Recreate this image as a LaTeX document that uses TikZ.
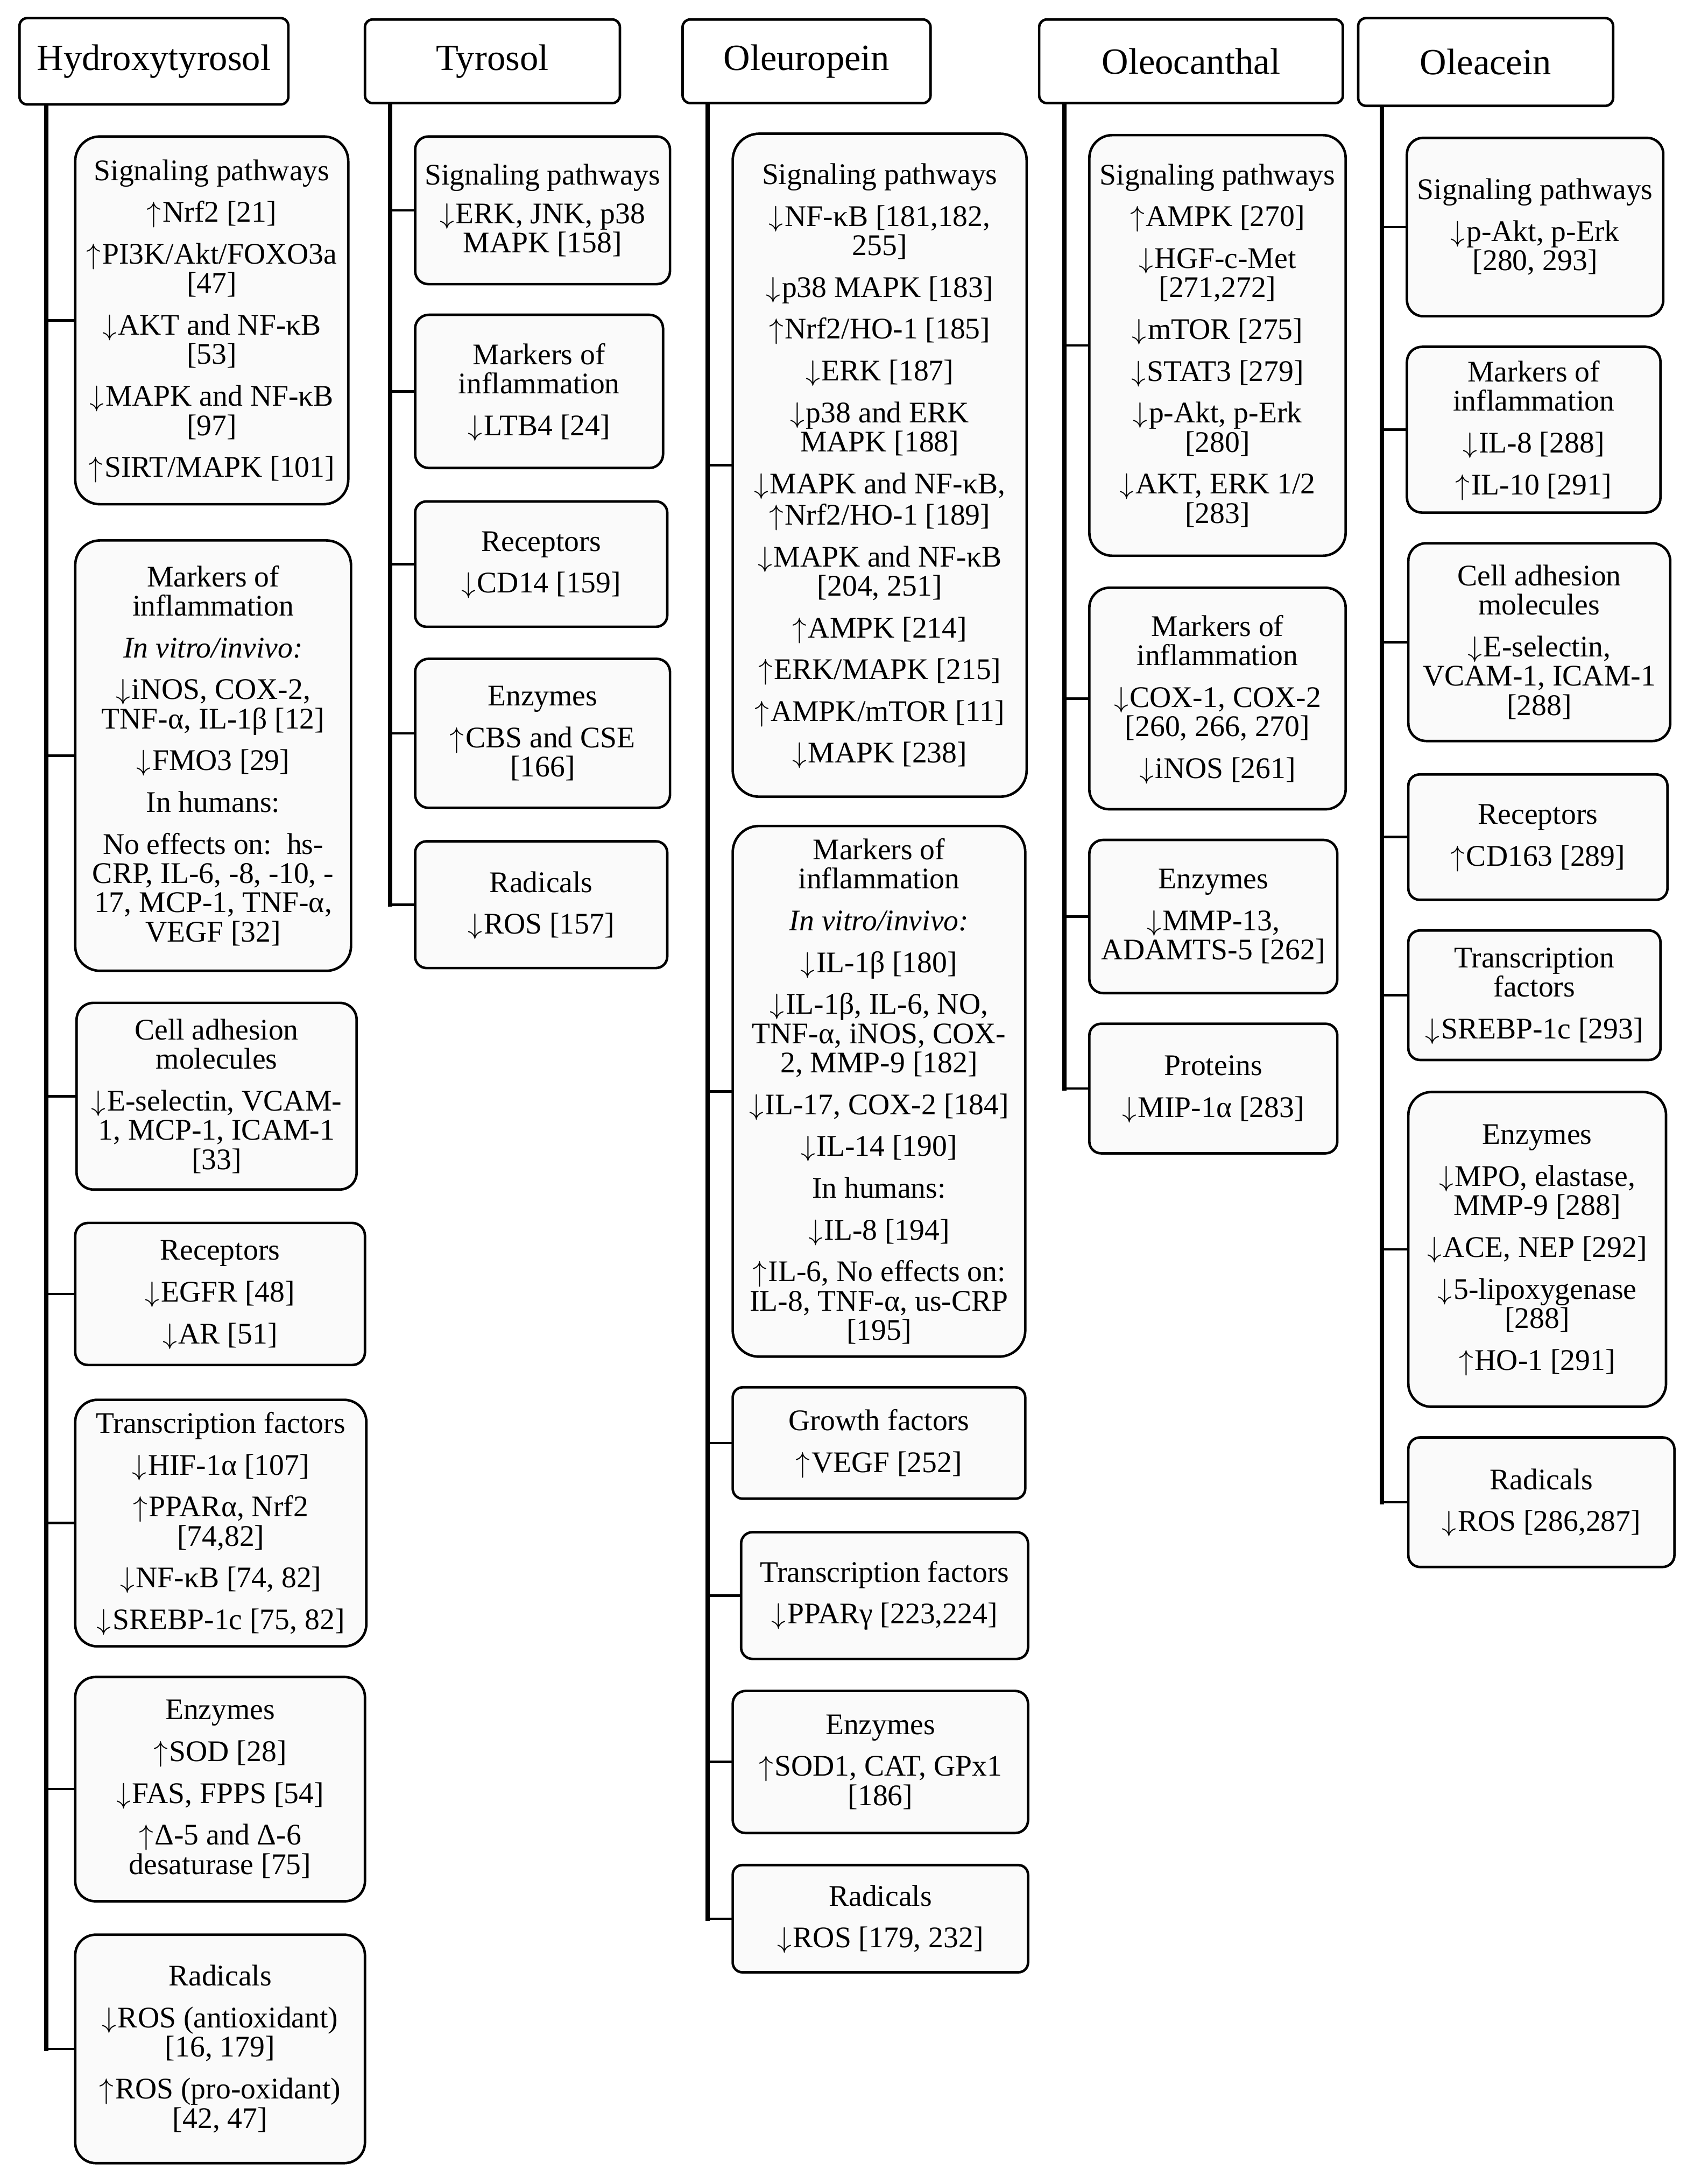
\documentclass[tikz,border=0pt]{standalone}
\usepackage{fontspec}
\setmainfont{Liberation Serif}
\newcommand\UA{\smash{$\uparrow$}\kern1pt}
\newcommand\DA{\smash{$\downarrow$}\kern1pt}
\newcommand\olbox[7][subbox]{%
  \pgfmathsetmacro\olw{#5-#3}%
  \pgfmathsetmacro\olh{#6-#4}%
  \pgfmathsetmacro\olr{0.09*min(\olw,\olh)}%
  \node[#1, minimum width=\olw pt, minimum height=\olh pt, rounded corners=\olr pt] (#2) at ({(#3+#5)/2},{(#4+#6)/2}) {#7};}
\begin{document}
\begin{tikzpicture}[x=1pt,y=-1pt,
  subbox/.style={draw, line width=1.8pt, fill=black!2, align=center, inner sep=0pt, font=\fontsize{21.5}{21}\selectfont},
  titlebox/.style={draw, line width=1.8pt, fill=white, align=center, inner sep=0pt, font=\fontsize{26.5}{28}\selectfont},
  trunk/.style={line width=3pt, line cap=rect},
  conn/.style={line width=1.8pt, line cap=rect}]
\fill[white] (0,0) rectangle (1216,1568);
\useasboundingbox (0,0) rectangle (1216,1568);

% ---------- Hydroxytyrosol ----------
\olbox[titlebox]{T1}{14}{13}{207}{75}{Hydroxytyrosol}
\olbox{H1}{54}{98}{250}{362}{Signaling pathways\\[9pt]\UA{}Nrf2 [21]\\[9pt]\UA{}PI3K/Akt/FOXO3a\\{}[47]\\[9pt]\DA{}AKT and NF-κB\\{}[53]\\[9pt]\DA{}MAPK and NF-κB\\{}[97]\\[9pt]\UA{}SIRT/MAPK [101]}
\olbox{H2}{54}{388}{252}{697}{Markers of\\inflammation\\[9pt]\textit{In vitro/invivo:}\\[9pt]\DA{}iNOS, COX-2,\\TNF-α, IL-1β [12]\\[9pt]\DA{}FMO3 [29]\\[9pt]In humans:\\[9pt]No effects on:\ \ hs-\\CRP, IL-6, -8, -10, -\\17, MCP-1, TNF-α,\\VEGF [32]}
\olbox{H3}{55}{720}{256}{854}{Cell adhesion\\molecules\\[9pt]\DA{}E-selectin, VCAM-\\1, MCP-1, ICAM-1\\{}[33]}
\olbox{H4}{54}{878}{262}{980}{Receptors\\[9pt]\DA{}EGFR [48]\\[9pt]\DA{}AR [51]}
\olbox{H5}{54}{1005}{263}{1182}{Transcription factors\\[9pt]\DA{}HIF-1α [107]\\[9pt]\UA{}PPARα, Nrf2\\{}[74,82]\\[9pt]\DA{}NF-κB [74, 82]\\[9pt]\DA{}SREBP-1c [75, 82]}
\olbox{H6}{54}{1204}{262}{1365}{Enzymes\\[9pt]\UA{}SOD [28]\\[9pt]\DA{}FAS, FPPS [54]\\[9pt]\UA{}Δ-5 and Δ-6\\desaturase [75]}
\olbox{H7}{54}{1389}{262}{1553}{Radicals\\[9pt]\DA{}ROS (antioxidant)\\{}[16, 179]\\[9pt]\UA{}ROS (pro-oxidant)\\{}[42, 47]}

% ---------- Tyrosol ----------
\olbox[titlebox]{T2}{262}{14}{445}{74}{Tyrosol}
\olbox{Y1}{298}{98}{481}{204}{Signaling pathways\\[7pt]\DA{}ERK, JNK, p38\\MAPK [158]}
\olbox{Y2}{298}{226}{476}{336}{Markers of\\inflammation\\[9pt]\DA{}LTB4 [24]}
\olbox{Y3}{298}{360}{479}{450}{Receptors\\[9pt]\DA{}CD14 [159]}
\olbox{Y4}{298}{473}{481}{580}{Enzymes\\[9pt]\UA{}CBS and CSE\\{}[166]}
\olbox{Y5}{298}{604}{479}{695}{Radicals\\[9pt]\DA{}ROS [157]}

% ---------- Oleuropein ----------
\olbox[titlebox]{T3}{490}{14}{668}{74}{Oleuropein}
\olbox{O1}{526}{96}{737}{572}{Signaling pathways\\[9pt]\DA{}NF-κB [181,182,\\255]\\[9pt]\DA{}p38 MAPK [183]\\[9pt]\UA{}Nrf2/HO-1 [185]\\[9pt]\DA{}ERK [187]\\[9pt]\DA{}p38 and ERK\\MAPK [188]\\[9pt]\DA{}MAPK and NF-κB,\\[1.5pt]\UA{}Nrf2/HO-1 [189]\\[9pt]\DA{}MAPK and NF-κB\\{}[204, 251]\\[9pt]\UA{}AMPK [214]\\[9pt]\UA{}ERK/MAPK [215]\\[9pt]\UA{}AMPK/mTOR [11]\\[9pt]\DA{}MAPK [238]}
\olbox{O2}{526}{593}{736}{974}{Markers of\\inflammation\\[9pt]\textit{In vitro/invivo:}\\[9pt]\DA{}IL-1β [180]\\[9pt]\DA{}IL-1β, IL-6, NO,\\TNF-α, iNOS, COX-\\2, MMP-9 [182]\\[9pt]\DA{}IL-17, COX-2 [184]\\[9pt]\DA{}IL-14 [190]\\[9pt]In humans:\\[9pt]\DA{}IL-8 [194]\\[9pt]\UA{}IL-6, No effects on:\\IL-8, TNF-α, us-CRP\\{}[195]}
\olbox{O3}{526}{996}{736}{1076}{Growth factors\\[9pt]\UA{}VEGF [252]}
\olbox{O4}{532}{1100}{738}{1191}{Transcription factors\\[9pt]\DA{}PPARγ [223,224]}
\olbox{O5}{526}{1214}{738}{1316}{Enzymes\\[9pt]\UA{}SOD1, CAT, GPx1\\{}[186]}
\olbox{O6}{526}{1339}{738}{1416}{Radicals\\[9pt]\DA{}ROS [179, 232]}

% ---------- Oleocanthal ----------
\olbox[titlebox]{T4}{746}{14}{964}{74}{Oleocanthal}
\olbox{C1}{782}{97}{966}{399}{Signaling pathways\\[9pt]\UA{}AMPK [270]\\[9pt]\DA{}HGF-c-Met\\{}[271,272]\\[9pt]\DA{}mTOR [275]\\[9pt]\DA{}STAT3 [279]\\[9pt]\DA{}p-Akt, p-Erk\\{}[280]\\[9pt]\DA{}AKT, ERK 1/2\\{}[283]}
\olbox{C2}{782}{422}{966}{581}{Markers of\\inflammation\\[9pt]\DA{}COX-1, COX-2\\{}[260, 266, 270]\\[9pt]\DA{}iNOS [261]}
\olbox{C3}{782}{603}{960}{713}{Enzymes\\[9pt]\DA{}MMP-13,\\ADAMTS-5 [262]}
\olbox{C4}{782}{735}{960}{828}{Proteins\\[9pt]\DA{}MIP-1α [283]}

% ---------- Oleacein ----------
\olbox[titlebox]{T5}{975}{13}{1158}{76}{Oleacein}
\olbox{L1}{1010}{99}{1194}{227}{Signaling pathways\\[9pt]\DA{}p-Akt, p-Erk\\{}[280, 293]}
\olbox{L2}{1010}{249}{1192}{368}{Markers of\\inflammation\\[9pt]\DA{}IL-8 [288]\\[9pt]\UA{}IL-10 [291]}
\olbox{L3}{1011}{390}{1199}{532}{Cell adhesion\\molecules\\[9pt]\DA{}E-selectin,\\VCAM-1, ICAM-1\\{}[288]}
\olbox{L4}{1011}{556}{1197}{646}{Receptors\\[9pt]\UA{}CD163 [289]}
\olbox{L5}{1011}{668}{1192}{761}{Transcription\\factors\\[9pt]\DA{}SREBP-1c [293]}
\olbox{L6}{1011}{784}{1196}{1010}{Enzymes\\[9pt]\DA{}MPO, elastase,\\MMP-9 [288]\\[9pt]\DA{}ACE, NEP [292]\\[9pt]\DA{}5-lipoxygenase\\{}[288]\\[9pt]\UA{}HO-1 [291]}
\olbox{L7}{1011}{1032}{1202}{1125}{Radicals\\[9pt]\DA{}ROS [286,287]}

% ---------- connectors ----------
\coordinate (k1) at ([xshift=20pt]T1.south west);
\coordinate (k2) at ([xshift=19pt]T2.south west);
\coordinate (k3) at ([xshift=19pt]T3.south west);
\coordinate (k4) at ([xshift=19pt]T4.south west);
\coordinate (k5) at ([xshift=18pt]T5.south west);

\draw[trunk] (k1) -- (k1 |- H7.west);
\draw[trunk] (k2) -- (k2 |- Y5.west);
\draw[trunk] (k3) -- (k3 |- O6.west);
\draw[trunk] (k4) -- (k4 |- C4.west);
\draw[trunk] (k5) -- (k5 |- L7.west);

\foreach \b in {H1,H2,H3,H4,H5,H6,H7} \draw[conn] (\b.west) -- (\b.west -| k1);
\foreach \b in {Y1,Y2,Y3,Y4,Y5} \draw[conn] (\b.west) -- (\b.west -| k2);
\foreach \b in {O1,O2,O3,O4,O5,O6} \draw[conn] (\b.west) -- (\b.west -| k3);
\foreach \b in {C1,C2,C3,C4} \draw[conn] (\b.west) -- (\b.west -| k4);
\foreach \b in {L1,L2,L3,L4,L5,L6,L7} \draw[conn] (\b.west) -- (\b.west -| k5);
\end{tikzpicture}
\end{document}
